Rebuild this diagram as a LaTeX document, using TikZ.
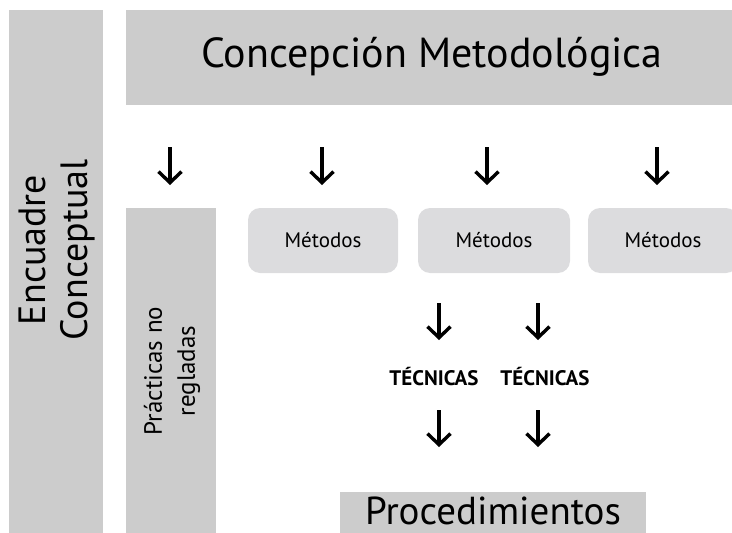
\documentclass[tikz,border=0pt]{standalone}
\usepackage{fontspec}
\setmainfont{PT Sans}
\usetikzlibrary{arrows.meta}
\definecolor{boxgray}{HTML}{CCCCCC}
\definecolor{metgray}{HTML}{DCDCDE}
\begin{document}
\begin{tikzpicture}[x=1pt,y=-1pt,
  bar/.style={fill=boxgray,draw=none},
  metbox/.style={fill=metgray,draw=none,rounded corners=12pt,minimum width=150pt,minimum height=65pt,inner sep=0pt,font=\fontsize{21}{24}\selectfont},
  arr/.style={line width=3.4pt,-{Straight Barb[length=11pt,width=23pt,line width=3.4pt]}},
  tec/.style={font=\bfseries\fontsize{21}{23}\selectfont}]
\useasboundingbox (0,0) rectangle (732,533);
% left bar
\fill[bar] (9,10) rectangle (103,533);
\node[rotate=90,align=center,font=\fontsize{38}{42}\selectfont] (enc) at (57,250) {Encuadre\\Conceptual};
% top box
\fill[bar] (126,10) rectangle (732,105);
\node[font=\fontsize{42}{46}\selectfont] (cm) at (432,57) {Concepción Metodológica};
% practicas
\fill[bar] (126,208) rectangle (216,533);
\node[rotate=90,align=center,font=\fontsize{25}{33}\selectfont] (pr) at (172,371) {Prácticas no\\regladas};
% metodos
\node[metbox] (m1) at (323,240.5) {Métodos};
\node[metbox,minimum width=152pt] (m2) at (494,240.5) {Métodos};
\node[metbox] (m3) at (663,240.5) {Métodos};
% arrows row 1
\coordinate (a1s) at (170,147); \coordinate (a1e) at (170,185);
\coordinate (a2s) at (322,147); \coordinate (a2e) at (322,185);
\coordinate (a3s) at (487,147); \coordinate (a3e) at (487,185);
\coordinate (a4s) at (657,147); \coordinate (a4e) at (657,185);
\draw[arr] (a1s) -- (a1e);
\draw[arr] (a2s) -- (a2e);
\draw[arr] (a3s) -- (a3e);
\draw[arr] (a4s) -- (a4e);
% tecnicas
\node[tec] (t1) at (434,377) {TÉCNICAS};
\node[tec] (t2) at (545,377) {TÉCNICAS};
\coordinate (b1s) at (439,303); \coordinate (b1e) at (439,340);
\coordinate (b2s) at (538,303); \coordinate (b2e) at (538,340);
\draw[arr] (b1s) -- (b1e);
\draw[arr] (b2s) -- (b2e);
\coordinate (c1s) at (439,410); \coordinate (c1e) at (439,447);
\coordinate (c2s) at (538,410); \coordinate (c2e) at (538,447);
\draw[arr] (c1s) -- (c1e);
\draw[arr] (c2s) -- (c2e);
% procedimientos
\fill[bar] (340,492) rectangle (646,533);
\node[font=\fontsize{39}{42}\selectfont,anchor=base,inner sep=0pt] (proc) at (493,524) {Procedimientos};
\end{tikzpicture}
\end{document}
